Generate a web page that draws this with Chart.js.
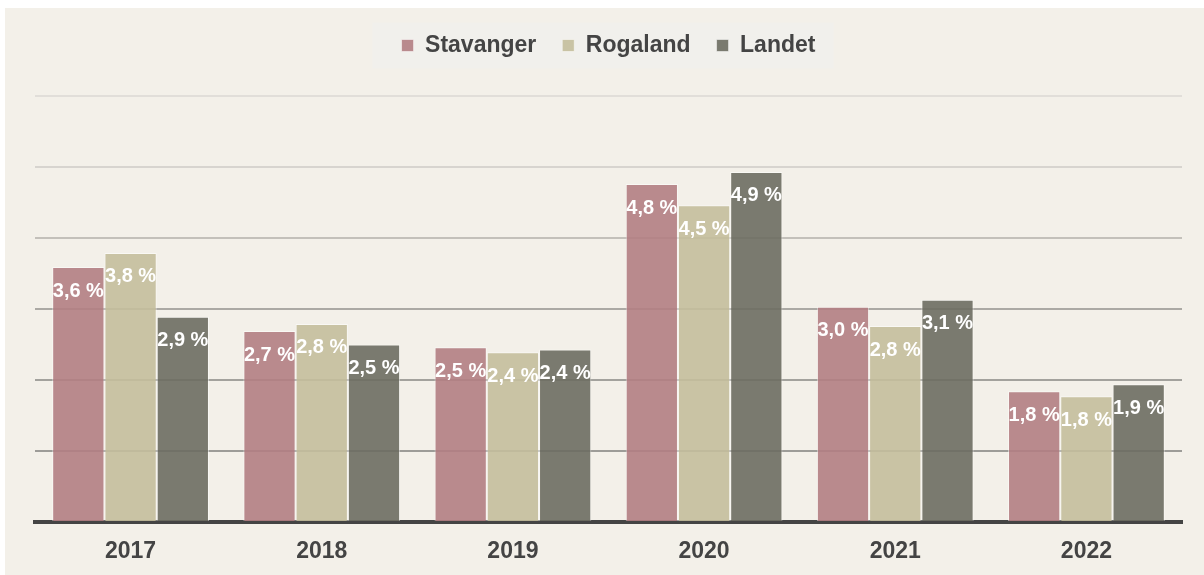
<!DOCTYPE html>
<html>
<head>
<meta charset="utf-8">
<script src="https://cdn.jsdelivr.net/npm/chart.js@4/dist/chart.umd.min.js"></script>
<style>
  body { margin: 0; background: #fff; }
  #wrap { position: absolute; left: 5px; top: 8px; width: 1199px; height: 567px; background: #f3f0e9; overflow: hidden; }
</style>
</head>
<body>
<div id="wrap"><canvas id="chart" width="1199" height="573"></canvas></div>
<script>
const years = ['2017', '2018', '2019', '2020', '2021', '2022'];
const stavanger = [3.59, 2.69, 2.46, 4.76, 3.03, 1.84];
const rogaland = [3.79, 2.79, 2.39, 4.46, 2.76, 1.77];
const landet = [2.89, 2.50, 2.43, 4.93, 3.13, 1.94];

const FONT = '"Liberation Sans", Arial, sans-serif';

// grid lines get lighter towards the top
const gridColors = ['#444444', '#9d9c98', '#a3a29d', '#aba9a4', '#c3c0ba', '#d7d4cf', '#e1ded9'];

const legendSpace = {
  id: 'legendSpace',
  beforeInit(chart) {
    const fit = chart.legend.fit;
    chart.legend.fit = function () {
      fit.bind(chart.legend)();
      this.height += 29;
    };
  }
};

const legendBox = {
  id: 'legendBox',
  beforeDraw(chart) {
    const boxes = chart.legend.legendHitBoxes;
    if (!boxes || !boxes.length) return;
    const first = boxes[0];
    const last = boxes[boxes.length - 1];
    const ctx = chart.ctx;
    ctx.save();
    ctx.fillStyle = '#f1f0ec';
    const cy = first.top + first.height / 2;
    ctx.fillRect(first.left - 29, cy - 23, last.left + last.width + 18 - (first.left - 29), 46);
    ctx.restore();
  }
};

const valueLabels = {
  id: 'valueLabels',
  afterDatasetsDraw(chart) {
    const ctx = chart.ctx;
    ctx.save();
    ctx.font = 'bold 20px ' + FONT;
    ctx.fillStyle = '#ffffff';
    ctx.textAlign = 'center';
    ctx.textBaseline = 'middle';
    chart.data.datasets.forEach((ds, i) => {
      chart.getDatasetMeta(i).data.forEach((bar, j) => {
        const txt = ds.data[j].toFixed(1).replace('.', ',') + ' %';
        ctx.fillText(txt, bar.x, bar.y + 24);
      });
    });
    ctx.restore();
  }
};

new Chart(document.getElementById('chart'), {
  type: 'bar',
  data: {
    labels: years,
    datasets: [
      { label: 'Stavanger', data: stavanger, backgroundColor: 'rgba(179,126,131,0.9)' },
      { label: 'Rogaland', data: rogaland, backgroundColor: 'rgba(196,190,156,0.9)' },
      { label: 'Landet', data: landet, backgroundColor: 'rgba(109,109,98,0.9)' }
    ]
  },
  options: {
    responsive: false,
    animation: false,
    datasets: {
      bar: {
        categoryPercentage: 0.82,
        barPercentage: 1.0,
        borderWidth: 1,
        borderColor: 'rgba(255,255,255,0.5)'
      }
    },
    layout: { padding: { left: 30, right: 22, top: 0, bottom: 0 } },
    plugins: {
      legend: {
        position: 'top',
        labels: {
          boxWidth: 12,
          boxHeight: 12,
          padding: 26,
          color: '#444444',
          font: { family: FONT, size: 23, weight: 'bold' }
        }
      },
      tooltip: { enabled: false }
    },
    scales: {
      x: {
        grid: { display: false, drawTicks: false },
        border: { display: true, color: '#444444', width: 4 },
        ticks: {
          padding: 18,
          color: '#444444',
          font: { family: FONT, size: 23, weight: 'bold', lineHeight: 1 }
        }
      },
      y: {
        min: 0,
        max: 6,
        ticks: { display: false, stepSize: 1 },
        border: { display: false },
        grid: {
          drawTicks: false,
          lineWidth: 2,
          color: (c) => gridColors[c.index] || '#aaaaaa'
        }
      }
    }
  },
  plugins: [legendSpace, legendBox, valueLabels]
});
</script>
</body>
</html>
